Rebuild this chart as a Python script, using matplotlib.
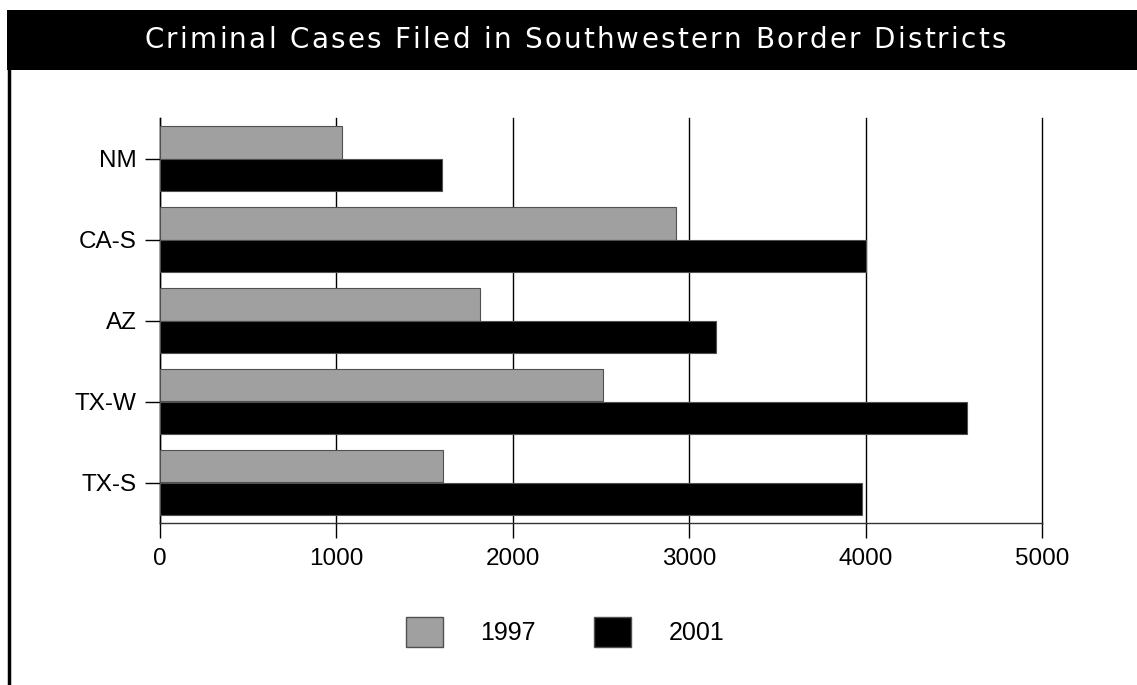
import matplotlib.pyplot as plt
from matplotlib.patches import Rectangle, Patch
from matplotlib.lines import Line2D
import numpy as np

plt.rcParams['font.family'] = ['Liberation Sans', 'DejaVu Sans']

title = 'Criminal Cases Filed in Southwestern Border Districts'
districts = ['NM', 'CA-S', 'AZ', 'TX-W', 'TX-S']
cases_1997 = [1030, 2925, 1815, 2510, 1605]
cases_2001 = [1600, 4000, 3150, 4575, 3980]
xticks = [0, 1000, 2000, 3000, 4000, 5000]

W, H = 1137, 685
fig = plt.figure(figsize=(W / 100, H / 100), dpi=100)

# title bar and left frame line
fig.patches.append(Rectangle((7 / W, 1 - 70 / H), 1, 60 / H, transform=fig.transFigure,
                             facecolor='black', edgecolor='none', zorder=0))
fig.lines.append(Line2D([8.5 / W, 8.5 / W], [0, 1 - 70 / H], transform=fig.transFigure,
                        color='black', lw=2.5))

# title with letter spacing: place characters one by one
renderer = fig.canvas.get_renderer()
tfont = dict(fontsize=20, family='DejaVu Sans')
widths = []
for ch in title:
    if ch == ' ':
        t = fig.text(0, 0, 'a a', **tfont)
        t2 = fig.text(0, 0, 'aa', **tfont)
        w = t.get_window_extent(renderer).width - t2.get_window_extent(renderer).width
        t.remove()
        t2.remove()
    else:
        t = fig.text(0, 0, ch, **tfont)
        w = t.get_window_extent(renderer).width
        t.remove()
    widths.append(w)
total = 862
spacing = (total - sum(widths)) / (len(title) - 1)
x = 575 - total / 2
for ch, w in zip(title, widths):
    if ch != ' ':
        fig.text(x / W, 1 - 39.5 / H, ch, color='white', ha='left', va='center', **tfont)
    x += w + spacing

ax = fig.add_axes([160 / W, 1 - 523 / H, 882 / W, 405 / H])
y = np.arange(len(districts))
ax.barh(y - 0.2, cases_1997, height=0.4, color='#a0a0a0', edgecolor='#505050', lw=0.8, zorder=3)
ax.barh(y + 0.2, cases_2001, height=0.4, color='black', edgecolor='#505050', lw=0.8, zorder=3)

ax.set_ylim(4.5, -0.5)
ax.set_xlim(0, 5000)
ax.set_yticks(y)
ax.set_yticklabels(districts)
ax.set_xticks(xticks)
ax.set_xticklabels([str(t) for t in xticks])
ax.tick_params(axis='y', length=11, width=1, pad=6, labelsize=17.5)
ax.tick_params(axis='x', length=11, width=1, pad=7, labelsize=17.5)
ax.grid(axis='x', color='black', lw=1, zorder=1)
for gl in ax.get_xgridlines():
    gl.set_clip_on(False)
for s in ['top', 'right']:
    ax.spines[s].set_visible(False)
ax.spines['left'].set_linewidth(1)
ax.spines['bottom'].set_linewidth(1)
ax.spines['bottom'].set_color('#333333')

handles = [Patch(facecolor='#a0a0a0', edgecolor='#505050', label='1997'),
           Patch(facecolor='black', edgecolor='#505050', label='2001')]
fig.legend(handles=handles, loc='center', bbox_to_anchor=(565 / W, 1 - 632 / H), ncol=2,
           frameon=False, fontsize=18, handlelength=1.5, handleheight=1.5,
           handletextpad=1.5, columnspacing=2.3)

fig.savefig('out.png', dpi=100)
